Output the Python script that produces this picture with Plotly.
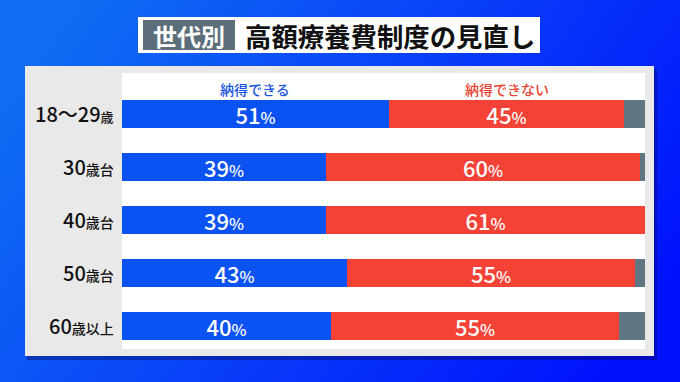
import plotly.graph_objects as go

# ---- data ----
categories = ["18〜29歳", "30歳台", "40歳台", "50歳台", "60歳以上"]
cat_labels = [
    "18〜29<span style='font-size:13px'>歳</span>",
    "30<span style='font-size:14px'>歳台</span>",
    "40<span style='font-size:14px'>歳台</span>",
    "50<span style='font-size:14px'>歳台</span>",
    "60<span style='font-size:14px'>歳以上</span>",
]
agree = [51, 39, 39, 43, 40]       # 納得できる
disagree = [45, 60, 61, 55, 55]    # 納得できない
other = [4, 1, 0, 2, 5]            # その他・わからない
series_names = ["納得できる", "納得できない"]
title_tag = "世代別"
title_text = "高額療養費制度の見直し"

W, H = 680, 382
FONT = "Noto Sans CJK JP"

def px(x):
    return x / W

def py(y):
    return 1 - y / H

BLUE = "#0b52f2"
RED = "#f44336"
GRAY = "#5f7782"

fig = go.Figure()
bar_text = "%{x}<span style='font-size:16px'>%</span>"
for vals, col, name, tt in [
    (agree, BLUE, series_names[0], bar_text),
    (disagree, RED, series_names[1], bar_text),
    (other, GRAY, "その他", ""),
]:
    fig.add_trace(go.Bar(
        x=vals, y=categories, orientation="h", name=name,
        marker=dict(color=col, line=dict(width=0)),
        width=0.53,
        texttemplate=tt, textposition="inside", insidetextanchor="middle",
        textangle=0, constraintext="none",
        textfont=dict(family=FONT, size=22, color="white", weight=500),
        hoverinfo="skip",
    ))

# plot area = white panel (122..645, 73..349)
unit = 52.9
top = (114 - 73) / unit
bot = (349 - 325.5) / unit
fig.update_layout(
    width=W, height=H,
    margin=dict(l=0, r=0, t=0, b=0),
    barmode="stack",
    bargap=0,
    showlegend=False,
    paper_bgcolor="#0a3cf8",
    plot_bgcolor="rgba(0,0,0,0)",
    xaxis=dict(domain=[px(122), px(645)], range=[0, 100], visible=False, fixedrange=True),
    yaxis=dict(domain=[py(349), py(73)], type="category",
               range=[len(categories) - 1 + bot, -top],
               visible=False, fixedrange=True),
    font=dict(family=FONT),
)

# background gradient as an svg image
svg = ("<svg xmlns='http://www.w3.org/2000/svg' width='680' height='382'>"
       "<defs><linearGradient id='g' x1='0' y1='0.3' x2='1' y2='0.7'>"
       "<stop offset='0' stop-color='%230f6cf3'/>"
       "<stop offset='0.55' stop-color='%23083af9'/>"
       "<stop offset='1' stop-color='%230012fd'/>"
       "</linearGradient></defs>"
       "<rect width='680' height='382' fill='url(%23g)'/></svg>")
fig.add_layout_image(dict(
    source="data:image/svg+xml;charset=utf-8," + svg.replace("<", "%3C").replace(">", "%3E").replace(" ", "%20").replace("'", "%27"),
    xref="paper", yref="paper", x=0, y=1, sizex=1, sizey=1,
    xanchor="left", yanchor="top", sizing="stretch", layer="below",
))

def rect(x0, y0, x1, y1, color):
    fig.add_shape(type="rect", xref="paper", yref="paper",
                  x0=px(x0), x1=px(x1), y0=py(y1), y1=py(y0),
                  fillcolor=color, line=dict(width=0), layer="below")

# panel shadow, panel, white area
rect(27, 69, 657, 360, "rgba(0,0,70,0.35)")
rect(25, 66, 654, 356, "#e9e9e9")
rect(122, 73, 645, 349, "#ffffff")
# title box
rect(138, 17, 540, 53, "#ffffff")
rect(143, 20, 235, 50, "#5b6e7a")

fig.add_annotation(text="<b>" + title_tag + "</b>", xref="paper", yref="paper",
                   x=px(189), y=py(35.5), showarrow=False, xanchor="center", yanchor="middle",
                   font=dict(family=FONT, size=24, color="white"))
fig.add_annotation(text="<b>" + title_text + "</b>", xref="paper", yref="paper",
                   x=px(243), y=py(35.5), showarrow=False, xanchor="left", yanchor="middle",
                   font=dict(family=FONT, size=26.4, color="#111111"))

# series headers
fig.add_annotation(text=series_names[0], xref="paper", yref="paper",
                   x=px(255), y=py(89), showarrow=False, xanchor="center", yanchor="middle",
                   font=dict(family=FONT, size=14, color="#1a55e0", weight=500))
fig.add_annotation(text=series_names[1], xref="paper", yref="paper",
                   x=px(507), y=py(89), showarrow=False, xanchor="center", yanchor="middle",
                   font=dict(family=FONT, size=14, color="#e8412f", weight=500))

# category labels
for cat, lab in zip(categories, cat_labels):
    fig.add_annotation(text=lab, xref="paper", yref="y", x=px(116), y=cat,
                       showarrow=False, xanchor="right", yanchor="middle",
                       font=dict(family=FONT, size=20, color="#111111", weight=500))

fig.write_html("out.html", config={"displayModeBar": False},
               post_script="document.body.style.margin='0';document.body.style.overflow='hidden';")
